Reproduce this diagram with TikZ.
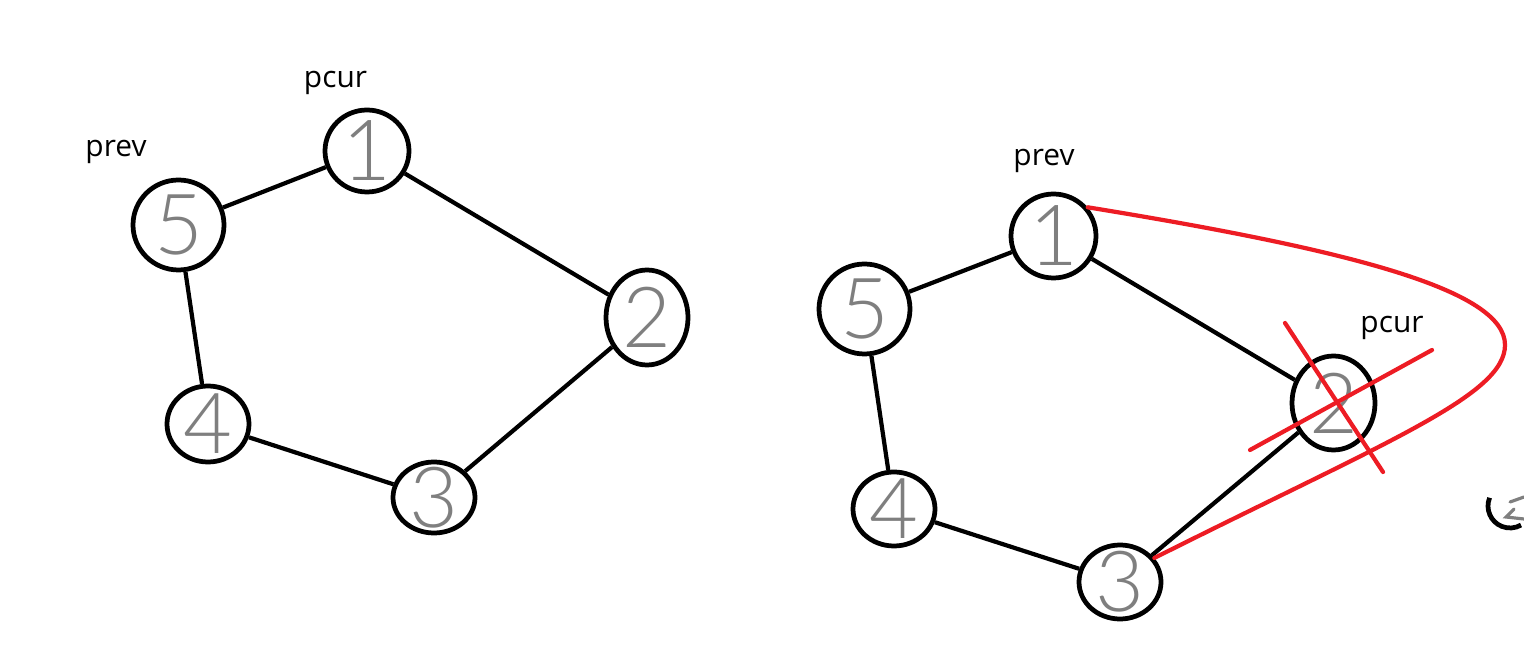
\documentclass[tikz,border=0pt]{standalone}
\usepackage{fontspec}
\setmainfont{Open Sans}
\newfontfamily\digitfont{Lato Light}
\definecolor{PaintRed}{HTML}{ED1C24}
\definecolor{PenGray}{HTML}{7F7F7F}
\usetikzlibrary{shapes.geometric, positioning}

\begin{document}
\begin{tikzpicture}[
      vtx/.style={ellipse, draw=black, line width=1.35pt, inner sep=0pt},
      dig/.style={PenGray, font=\digitfont\fontsize{24}{24}\selectfont},
      lnk/.style={black, line width=1.2pt},
      lbl/.style={anchor=base, font=\fontsize{8.5}{10}\selectfont},
      cut/.style={PaintRed, line width=1.2pt, line cap=round}]
      \useasboundingbox (0,0) rectangle (15.24,-6.47);
      % Left: list before deletion
      \node[vtx, minimum width=0.84cm, minimum height=0.82cm, label={[dig]center:1}] (n1) at (3.67,-1.51) {};
      \node[vtx, minimum width=0.91cm, minimum height=0.90cm, label={[dig]center:5}] (n5) at (1.785,-2.25) {};
      \node[vtx, minimum width=0.82cm, minimum height=0.95cm, label={[dig]center:2}] (n2) at (6.47,-3.175) {};
      \node[vtx, minimum width=0.82cm, minimum height=0.76cm, label={[dig]center:4}] (n4) at (2.08,-4.24) {};
      \node[vtx, minimum width=0.82cm, minimum height=0.71cm, label={[dig]center:3}] (n3) at (4.34,-4.975) {};
      \draw[lnk] (n5) -- (n1);
      \draw[lnk] (n1) -- (n2);
      \draw[lnk] (n2) -- (n3);
      \draw[lnk] (n3) -- (n4);
      \draw[lnk] (n4) -- (n5);
      \node[lbl] (lpcur) at (3.355,-0.88) {pcur};
      \node[lbl] (lprev) at (1.16,-1.57) {prev};
      % Right: list after removing node 2
      \node[vtx, minimum width=0.85cm, minimum height=0.84cm, label={[dig]center:1}] (m1) at (10.535,-2.36) {};
      \node[vtx, minimum width=0.91cm, minimum height=0.90cm, label={[dig]center:5}] (m5) at (8.645,-3.09) {};
      \node[vtx, minimum width=0.83cm, minimum height=0.94cm, label={[dig]center:2}] (m2) at (13.335,-4.03) {};
      \node[vtx, minimum width=0.82cm, minimum height=0.74cm, label={[dig]center:4}] (m4) at (8.94,-5.09) {};
      \node[vtx, minimum width=0.82cm, minimum height=0.74cm, label={[dig]center:3}] (m3) at (11.20,-5.82) {};
      \draw[lnk] (m5) -- (m1);
      \draw[lnk] (m1) -- (m2);
      \draw[lnk] (m2) -- (m3);
      \draw[lnk] (m3) -- (m4);
      \draw[lnk] (m4) -- (m5);
      \node[lbl] (rprev) at (10.44,-1.66) {prev};
      \node[lbl] (rpcur) at (13.92,-3.33) {pcur};
      % Red: new link and crossed-out node
      \draw[cut] (m1.40) .. controls (13.5,-2.5) and (15.05,-2.9) .. (15.05,-3.45)
                 .. controls (15.05,-3.95) and (13.9,-4.4) .. (m3.35);
      \coordinate (xa) at (12.85,-3.23);
      \coordinate (xb) at (13.83,-4.72);
      \coordinate (ya) at (12.50,-4.50);
      \coordinate (yb) at (14.32,-3.50);
      \draw[cut] (xa) -- (xb);
      \draw[cut] (ya) -- (yb);
      % Partial node at the right edge
      \draw[line width=1.35pt] (15.10,-5.06) ++(158:0.22) arc[start angle=158, end angle=300, radius=0.22];
      \draw[PenGray, line width=0.9pt, line cap=round] (15.10,-5.02) -- (15.24,-4.97);
      \draw[PenGray, line width=0.9pt, line cap=round] (15.14,-5.09) -- (15.06,-5.17) -- (15.24,-5.19);
\end{tikzpicture}
\end{document}
